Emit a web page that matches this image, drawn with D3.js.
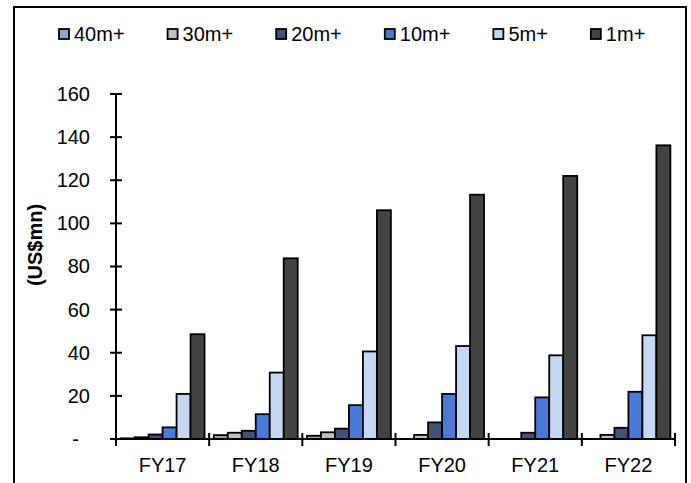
<!DOCTYPE html>
<html>
<head>
<meta charset="utf-8">
<script src="https://cdn.jsdelivr.net/npm/d3@7"></script>
<style>
  html, body { margin: 0; padding: 0; background: #fff; }
  svg { display: block; font-family: Arial, "Liberation Sans", sans-serif; }
</style>
</head>
<body>
<svg id="chart" width="691" height="483"></svg>
<script>
// Fiscal years on the x axis
const years = ["FY17", "FY18", "FY19", "FY20", "FY21", "FY22"];
// Series names, in drawing order within each year
const seriesNames = ["40m+", "30m+", "20m+", "10m+", "5m+", "1m+"];
// Values in US$mn, one per year
const v40m = [0.3, 1.8, 1.5, 0, 0, 0];
const v30m = [0.8, 2.9, 3.1, 1.9, 0, 1.9];
const v20m = [2.1, 3.8, 4.8, 7.7, 2.9, 5.2];
const v10m = [5.4, 11.5, 15.7, 20.9, 19.3, 21.9];
const v5m  = [20.9, 30.8, 40.6, 43.1, 38.8, 48.1];
const v1m  = [48.6, 83.8, 106.1, 113.3, 122.0, 136.2];
// Y axis tick values
const yTicks = [0, 20, 40, 60, 80, 100, 120, 140, 160];

const seriesValues = [v40m, v30m, v20m, v10m, v5m, v1m];
const colors = ["#8EA3C8", "#C0C0C0", "#415272", "#4A7AD6", "#C6D7F1", "#434343"];

const svg = d3.select("#chart");
const font = "Arial, 'Liberation Sans', sans-serif";

// outer frame
svg.append("rect")
  .attr("x", 14).attr("y", 7).attr("width", 672).attr("height", 490)
  .attr("fill", "none").attr("stroke", "#000").attr("stroke-width", 2);

const plotLeft = 116, plotRight = 675, plotTop = 94, plotBottom = 439;

const x = d3.scaleBand().domain(years).range([plotLeft, plotRight]).paddingInner(0).paddingOuter(0);
const xs = d3.scaleBand().domain(seriesNames).range([0, x.bandwidth()]).paddingInner(0).paddingOuter(0.33);
const y = d3.scaleLinear().domain([0, 160]).range([plotBottom, plotTop]);

// bars
const groups = svg.append("g").selectAll("g")
  .data(years).join("g")
  .attr("transform", d => `translate(${x(d)},0)`);

groups.selectAll("rect")
  .data((yr, i) => seriesNames.map((s, k) => ({ s, k, v: seriesValues[k][i] })))
  .join("rect")
  .attr("x", d => xs(d.s))
  .attr("width", xs.bandwidth())
  .attr("y", d => y(d.v))
  .attr("height", d => Math.max(0, y(0) - y(d.v)))
  .attr("fill", d => colors[d.k])
  .attr("stroke", "#000")
  .attr("stroke-width", d => d.v > 0 ? 1.8 : 0);

// y axis
const yAxis = d3.axisLeft(y).tickValues(yTicks)
  .tickSize(0).tickPadding(26)
  .tickFormat(d => d === 0 ? "-" : d3.format("d")(d));
const gy = svg.append("g").attr("transform", `translate(${plotLeft},0)`).call(yAxis);
gy.select(".domain").remove();
gy.selectAll("text")
  .attr("font-size", 20).attr("font-family", font).attr("fill", "#000")
  .attr("dx", d => d === 0 ? -11 : 0);
svg.append("line")
  .attr("x1", plotLeft).attr("x2", plotLeft).attr("y1", plotTop).attr("y2", plotBottom + 7)
  .attr("stroke", "#000").attr("stroke-width", 2);
svg.append("g").selectAll("line").data(yTicks).join("line")
  .attr("x1", plotLeft - 6).attr("x2", plotLeft + 6)
  .attr("y1", d => y(d)).attr("y2", d => y(d))
  .attr("stroke", "#000").attr("stroke-width", 2);

// x axis
svg.append("line")
  .attr("x1", plotLeft).attr("x2", plotRight).attr("y1", plotBottom).attr("y2", plotBottom)
  .attr("stroke", "#000").attr("stroke-width", 2);
const bounds = years.map(d => x(d)).concat([plotRight]);
svg.append("g").selectAll("line").data(bounds).join("line")
  .attr("x1", d => d).attr("x2", d => d)
  .attr("y1", plotBottom - 6).attr("y2", plotBottom + 7)
  .attr("stroke", "#000").attr("stroke-width", 2);
svg.append("g").selectAll("text").data(years).join("text")
  .attr("x", d => x(d) + x.bandwidth() / 2)
  .attr("y", 472)
  .attr("text-anchor", "middle")
  .attr("font-size", 20).attr("font-family", font)
  .text(d => d);

// y axis title
svg.append("text")
  .attr("transform", "translate(42,245) rotate(-90)")
  .attr("text-anchor", "middle")
  .attr("font-size", 20).attr("font-weight", "bold").attr("font-family", font)
  .text("(US$mn)");

// legend
const legend = svg.append("g");
let lx = 59;
seriesNames.forEach((s, k) => {
  legend.append("rect")
    .attr("x", lx).attr("y", 29).attr("width", 10).attr("height", 10)
    .attr("fill", colors[k]).attr("stroke", "#000").attr("stroke-width", 1.8);
  const t = legend.append("text")
    .attr("x", lx + 15).attr("y", 41)
    .attr("font-size", 20).attr("font-family", font)
    .text(s);
  lx += 15 + t.node().getComputedTextLength() + 43;
});
</script>
</body>
</html>
